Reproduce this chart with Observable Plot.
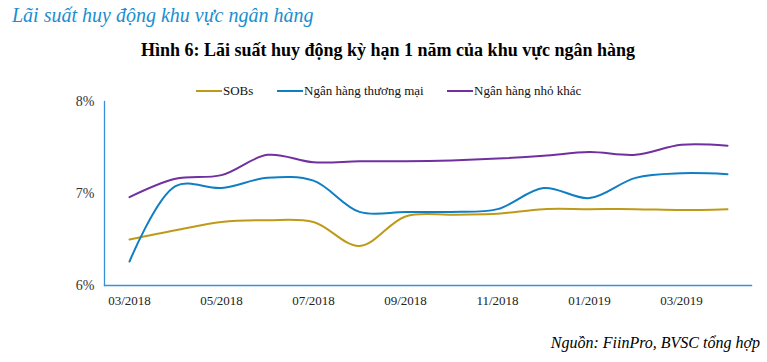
<!DOCTYPE html>
<html>
<head>
<meta charset="utf-8">
<script src="https://cdn.jsdelivr.net/npm/d3@7"></script>
<script src="https://cdn.jsdelivr.net/npm/@observablehq/plot@0.6"></script>
<style>
  body { margin: 0; background: #fff; }
  #wrap { position: relative; width: 767px; height: 362px; font-family: "Liberation Serif", "Times New Roman", serif; }
  #wrap svg { position: absolute; left: 0; top: 0; }
  .t { position: absolute; white-space: nowrap; }
  #title { left: 12px; top: 4px; font-size: 20px; font-style: italic; color: #1B8ED0; }
  #sub { left: 0; width: 776px; text-align: center; top: 40px; font-size: 18px; font-weight: bold; color: #000; }
  #src { right: 7px; top: 334px; font-size: 16px; font-style: italic; color: #000; }
  .leg { position: absolute; top: 83px; font-size: 13px; color: #111; display: flex; align-items: center; }
  .leg span.sw { display: inline-block; width: 26px; height: 2px; margin-right: 1px; }
</style>
</head>
<body>
<div id="wrap">
  <div class="t" id="title">Lãi suất huy động khu vực ngân hàng</div>
  <div class="t" id="sub">Hình 6: Lãi suất huy động kỳ hạn 1 năm của khu vực ngân hàng</div>
  <div id="legend"></div>
  <div class="t" id="src">Nguồn: FiinPro, BVSC tổng hợp</div>
</div>
<script>
const months = ["03/2018","04/2018","05/2018","06/2018","07/2018","08/2018","09/2018","10/2018","11/2018","12/2018","01/2019","02/2019","03/2019","04/2019"];
const sobs =      [6.50, 6.60, 6.69, 6.71, 6.69, 6.43, 6.75, 6.77, 6.78, 6.83, 6.83, 6.83, 6.82, 6.83];
const thuongMai = [6.26, 7.08, 7.06, 7.17, 7.14, 6.80, 6.80, 6.80, 6.83, 7.06, 6.95, 7.17, 7.22, 7.21];
const nhoKhac =   [6.96, 7.16, 7.20, 7.42, 7.34, 7.35, 7.35, 7.36, 7.38, 7.41, 7.45, 7.42, 7.53, 7.52];
const seriesNames = ["SOBs", "Ngân hàng thương mại", "Ngân hàng nhỏ khác"];
const seriesColors = ["#BF9A18", "#0F7EC3", "#7030A0"];
const xTickLabels = ["03/2018","05/2018","07/2018","09/2018","11/2018","01/2019","03/2019"];
const yTicks = [6, 7, 8];

const seriesValues = [sobs, thuongMai, nhoKhac];
const data = [];
seriesNames.forEach((name, i) => months.forEach((m, j) => data.push({series: name, month: m, value: seriesValues[i][j]})));

const plot = Plot.plot({
  width: 767,
  height: 362,
  marginLeft: 104,
  marginRight: 16,
  marginTop: 101,
  marginBottom: 77,
  style: {fontFamily: "'Liberation Serif', 'Times New Roman', serif", background: "transparent"},
  x: {type: "point", domain: months, padding: 0.5},
  y: {domain: [6, 8]},
  color: {domain: seriesNames, range: seriesColors},
  marks: [
    Plot.axisX({ticks: xTickLabels, tickSize: 0, tickPadding: 10, fontSize: 13, fill: "#222", label: null}),
    Plot.axisY({ticks: yTicks, tickSize: 0, tickPadding: 10, fontSize: 14, fill: "#333", tickFormat: d => d + "%", label: null}),
    Plot.frame({anchor: "left", stroke: "#3A8FD9", strokeWidth: 1.3}),
    Plot.frame({anchor: "bottom", stroke: "#3A8FD9", strokeWidth: 1.3}),
    Plot.line(data, {x: "month", y: "value", z: "series", stroke: "series", strokeWidth: 2, curve: "catmull-rom"})
  ]
});
document.getElementById("wrap").prepend(plot);

const legendPos = [196, 277, 447];
const legend = document.getElementById("legend");
seriesNames.forEach((name, i) => {
  const d = document.createElement("div");
  d.className = "leg";
  d.style.left = legendPos[i] + "px";
  d.innerHTML = `<span class="sw" style="background:${seriesColors[i]}"></span><span>${name}</span>`;
  legend.appendChild(d);
});
</script>
</body>
</html>
